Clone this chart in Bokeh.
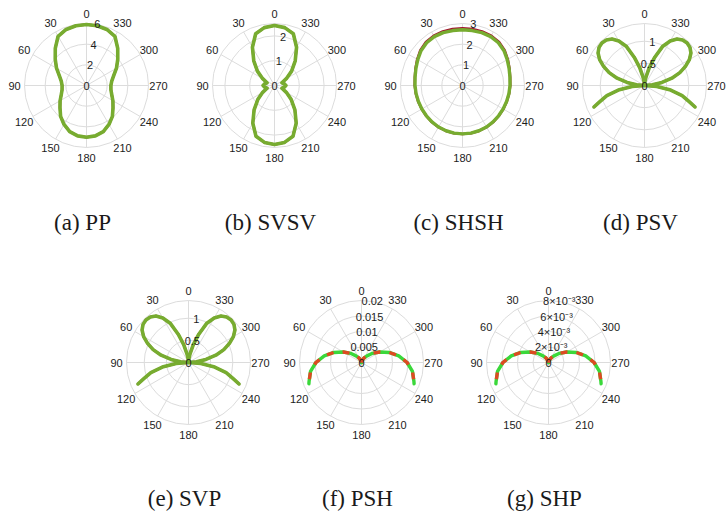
import numpy as np
from bokeh.plotting import figure
from bokeh.layouts import column, row
from bokeh.models import Range1d, Spacer
from bokeh.core.properties import value
from bokeh.embed import file_html
from bokeh.resources import INLINE

# ---------------- data (angles in degrees, counter-clockwise from the top) ----------------
ANGLE_TICKS = [0, 30, 60, 90, 120, 150, 180, 210, 240, 270, 300, 330]

THETA = [0, 10, 20, 30, 40, 50, 60, 70, 80, 90, 100, 110, 120, 130, 140, 150, 160, 170, 180,
         190, 200, 210, 220, 230, 240, 250, 260, 270, 280, 290, 300, 310, 320, 330, 340, 350, 360]

# (a) PP
R_PP = [5.90, 5.87, 5.77, 5.50, 4.70, 3.95, 3.35, 2.80, 2.48, 2.36, 2.40, 2.60, 2.95, 3.35, 3.90,
        4.35, 4.75, 4.95, 5.00, 4.95, 4.75, 4.35, 3.90, 3.35, 2.95, 2.60, 2.40, 2.36, 2.48, 2.80,
        3.35, 3.95, 4.70, 5.50, 5.77, 5.87, 5.90]
# (b) SVSV
R_SVSV = [2.42, 2.37, 2.22, 1.78, 1.30, 0.90, 0.55, 0.32, 0.40, 0.46, 0.40, 0.32, 0.55, 0.88, 1.28,
          1.75, 2.18, 2.33, 2.38, 2.33, 2.18, 1.75, 1.28, 0.88, 0.55, 0.32, 0.40, 0.46, 0.40, 0.32,
          0.55, 0.90, 1.30, 1.78, 2.22, 2.37, 2.42]
# (c) SHSH, two nearly coincident curves
R_SHSH_1 = [2.77, 2.77, 2.78, 2.78, 2.75, 2.66, 2.53, 2.42, 2.34, 2.31, 2.29, 2.28, 2.28, 2.29, 2.31,
            2.33, 2.34, 2.35, 2.35, 2.35, 2.34, 2.33, 2.31, 2.29, 2.28, 2.28, 2.29, 2.31, 2.34, 2.42,
            2.53, 2.66, 2.75, 2.78, 2.78, 2.77, 2.77]
R_SHSH_2 = [2.70, 2.70, 2.72, 2.73, 2.70, 2.62, 2.50, 2.40, 2.33, 2.30, 2.28, 2.27, 2.27, 2.28, 2.30,
            2.32, 2.33, 2.34, 2.34, 2.34, 2.33, 2.32, 2.30, 2.28, 2.27, 2.27, 2.28, 2.30, 2.33, 2.40,
            2.50, 2.62, 2.70, 2.73, 2.72, 2.70, 2.70]

# (d) PSV and (e) SVP: left branch and right branch
THETA_L = [0, 5, 10, 15, 20, 25, 30, 35, 40, 45, 50, 55, 60, 65, 70, 75, 80, 85, 90, 95, 100, 105, 110, 113]
THETA_R = [360, 355, 350, 345, 340, 335, 330, 325, 320, 315, 310, 305, 300, 295, 290, 285, 280, 275,
           270, 265, 260, 255, 250, 247]
R_PSV = [0.00, 0.08, 0.20, 0.42, 0.68, 0.98, 1.16, 1.28, 1.34, 1.36, 1.34, 1.28, 1.17, 1.02, 0.85,
         0.64, 0.40, 0.18, 0.00, 0.28, 0.60, 0.88, 1.08, 1.24]
R_SVP = [0.00, 0.08, 0.20, 0.42, 0.68, 0.98, 1.16, 1.28, 1.34, 1.36, 1.34, 1.28, 1.17, 1.02, 0.85,
         0.64, 0.40, 0.18, 0.00, 0.28, 0.60, 0.88, 1.08, 1.24]

# (f) PSH and (g) SHP
THETA_HL = [0, 10, 20, 30, 40, 50, 60, 70, 80, 90, 100, 110, 112]
THETA_HR = [360, 350, 340, 330, 320, 310, 300, 290, 280, 270, 260, 250, 248]
R_PSH = [0.0, 0.0002, 0.0008, 0.0017, 0.0028, 0.0046, 0.0068, 0.0095, 0.0122, 0.0147, 0.0167, 0.0180, 0.0183]
R_SHP = [0.0, 0.00008, 0.00032, 0.00068, 0.00112, 0.00184, 0.00272, 0.0038, 0.00488, 0.00588,
         0.00668, 0.0072, 0.00732]

# radial ticks
TICKS_PP, LAB_PP = [0, 2, 4, 6], ["0", "2", "4", "6"]
TICKS_SVSV, LAB_SVSV = [0, 1, 2], ["0", "1", "2"]
TICKS_SHSH, LAB_SHSH = [0, 1, 2, 3], ["0", "1", "2", "3"]
TICKS_PSV, LAB_PSV = [0, 0.5, 1], ["0", "0.5", "1"]
TICKS_PSH, LAB_PSH = [0, 0.005, 0.01, 0.015, 0.02], ["0", "0.005", "0.01", "0.015", "0.02"]
TICKS_SHP, LAB_SHP = [0, 0.002, 0.004, 0.006, 0.008], ["0", "2×10⁻³", "4×10⁻³", "6×10⁻³", "8×10⁻³"]

CAPTIONS = ["(a) PP", "(b) SVSV", "(c) SHSH", "(d) PSV", "(e) SVP", "(f) PSH", "(g) SHP"]

# ---------------- styling ----------------
R_PX = 62        # outer ring radius in pixels
LABEL_PX = 72    # angle label radius in pixels
GRID = "#DCDCDC"
TXT = "#1c1c1c"
RED = "#A2142F"
GREEN = "#77AC30"
GREEN2 = "#3AD83A"
RED2 = "#DD4A22"


def polar_xy(theta_deg, r):
    t = np.radians(np.asarray(theta_deg, dtype=float))
    r = np.asarray(r, dtype=float)
    return -r * np.sin(t), r * np.cos(t)


def make_panel(cx_off, width, cy_off, height, rmax, rings, ticks, tick_labels, series, caption, cap_dy):
    s = R_PX / rmax
    p = figure(width=width, height=height,
               x_range=Range1d(-cx_off / s, (width - cx_off) / s),
               y_range=Range1d(-(height - cy_off) / s, cy_off / s),
               min_border=0, toolbar_location=None, output_backend="svg",
               x_axis_location=None, y_axis_location=None)
    p.grid.visible = False
    p.outline_line_color = None
    p.background_fill_color = "white"
    p.border_fill_color = "white"

    # spokes
    sp = [0, 30, 60, 90, 120, 150]
    x0, y0 = polar_xy(sp, [rmax] * len(sp))
    x1, y1 = polar_xy([a + 180 for a in sp], [rmax] * len(sp))
    p.segment(x0=x0, y0=y0, x1=x1, y1=y1, line_color=GRID, line_width=1)
    # rings
    p.circle(x=[0] * len(rings), y=[0] * len(rings), radius=rings,
             fill_color=None, line_color=GRID, line_width=1)

    # curves
    for branches, color, lw, dash in series:
        for th, rr in branches:
            xs, ys = polar_xy(th, rr)
            p.line(xs, ys, line_color=color, line_width=lw, line_dash=dash,
                   line_join="round", line_cap="round" if dash == "solid" else "butt")

    # angle labels
    ax, ay = polar_xy(ANGLE_TICKS, [LABEL_PX / s] * len(ANGLE_TICKS))
    p.text(x=ax, y=ay, text=[str(a) for a in ANGLE_TICKS], text_align="center",
           text_baseline="middle", text_font=value("Liberation Sans"), text_font_size="11px",
           text_color=TXT)
    # radial labels
    rx, ry = polar_xy([350] * len(ticks), ticks)
    p.text(x=rx, y=ry, text=tick_labels, text_align="center", text_baseline="middle",
           text_font=value("Liberation Sans"), text_font_size="11px", text_color=TXT)
    # caption
    p.text(x=[-4 / s], y=[-cap_dy / s], text=[caption], text_align="center",
           text_baseline="alphabetic", text_font=value("Liberation Serif"),
           text_font_size="23px", text_color="#1a1a1a")
    return p


TOP_H, BOT_H = 240, 272
TOP_CY, BOT_CY = 85, 122
TOP_CAP, BOT_CAP = 137, 136
W = 170

pa = make_panel(86, 168, TOP_CY, TOP_H, 6, [2, 4, 6], TICKS_PP, LAB_PP,
                [([(THETA, R_PP)], RED, 2.5, "solid"), ([(THETA, R_PP)], GREEN, 3.6, "solid")],
                CAPTIONS[0], TOP_CAP)
pb = make_panel(88, W, TOP_CY, TOP_H, 2.5, [1, 2, 2.5], TICKS_SVSV, LAB_SVSV,
                [([(THETA, R_SVSV)], RED, 2.5, "solid"), ([(THETA, R_SVSV)], GREEN, 3.6, "solid")],
                CAPTIONS[1], TOP_CAP)
pc = make_panel(88, W, TOP_CY, TOP_H, 3, [1, 2, 3], TICKS_SHSH, LAB_SHSH,
                [([(THETA, R_SHSH_1)], RED, 2.6, "solid"), ([(THETA, R_SHSH_2)], GREEN, 3.4, "solid")],
                CAPTIONS[2], TOP_CAP)
pd = make_panel(88, W, TOP_CY, TOP_H, 1.4, [0.5, 1, 1.4], TICKS_PSV, LAB_PSV,
                [([(THETA_L, R_PSV), (THETA_R, R_PSV)], RED, 2.5, "solid"),
                 ([(THETA_L, R_PSV), (THETA_R, R_PSV)], GREEN, 3.6, "solid")],
                CAPTIONS[3], TOP_CAP)
pe = make_panel(88, W, BOT_CY, BOT_H, 1.4, [0.5, 1, 1.4], TICKS_PSV, LAB_PSV,
                [([(THETA_L, R_SVP), (THETA_R, R_SVP)], RED, 2.5, "solid"),
                 ([(THETA_L, R_SVP), (THETA_R, R_SVP)], GREEN, 3.6, "solid")],
                CAPTIONS[4], BOT_CAP)
pf = make_panel(88, W, BOT_CY, BOT_H, 0.02, [0.005, 0.01, 0.015, 0.02], TICKS_PSH, LAB_PSH,
                [([(THETA_HL, R_PSH), (THETA_HR, R_PSH)], GREEN2, 3.4, "solid"),
                 ([(THETA_HL, R_PSH), (THETA_HR, R_PSH)], RED2, 3.4, "7 9")],
                CAPTIONS[5], BOT_CAP)
pg = make_panel(88, W, BOT_CY, BOT_H, 0.008, [0.002, 0.004, 0.006, 0.008], TICKS_SHP, LAB_SHP,
                [([(THETA_HL, R_SHP), (THETA_HR, R_SHP)], GREEN2, 3.4, "solid"),
                 ([(THETA_HL, R_SHP), (THETA_HR, R_SHP)], RED2, 3.4, "7 9")],
                CAPTIONS[6], BOT_CAP)

top = row(pa, Spacer(width=18, height=TOP_H), pb, Spacer(width=18, height=TOP_H), pc,
          Spacer(width=12, height=TOP_H), pd, spacing=0)
bottom = row(Spacer(width=100, height=BOT_H), pe, Spacer(width=3, height=BOT_H), pf,
             Spacer(width=17, height=BOT_H), pg, Spacer(width=96, height=BOT_H), spacing=0)
layout = column(top, bottom, spacing=0)

open("out.html", "w").write(file_html(layout, INLINE))
